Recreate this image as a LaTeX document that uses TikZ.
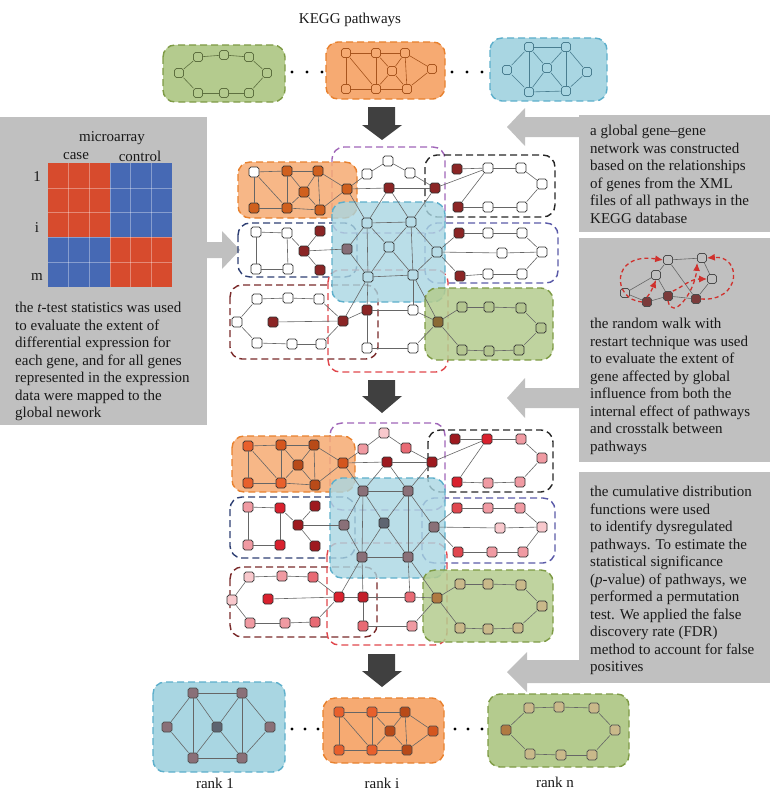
\documentclass[tikz,border=0pt]{standalone}
\usepackage{fontspec}
\setmainfont{Liberation Serif}
\usetikzlibrary{arrows.meta}
\definecolor{pgray}{HTML}{C0C0C0}
\definecolor{darr}{HTML}{404040}
\definecolor{gfill}{HTML}{B4CB8E}
\definecolor{gdraw}{HTML}{7E9B45}
\definecolor{gnode}{HTML}{5E7040}
\definecolor{ofill}{HTML}{F6AA72}
\definecolor{odraw}{HTML}{E8812E}
\definecolor{onode}{HTML}{A8551E}
\definecolor{bfill}{HTML}{A9D6E2}
\definecolor{bdraw}{HTML}{5DAFCB}
\definecolor{bnode}{HTML}{4A7E90}
\definecolor{purp}{HTML}{A066B8}
\definecolor{navyb}{HTML}{2E3F73}
\definecolor{slateb}{HTML}{5A5AA8}
\definecolor{brownb}{HTML}{7A2A2A}
\definecolor{redb}{HTML}{E0474C}
\definecolor{cdr}{HTML}{8B2525}
\definecolor{corn}{HTML}{D0601E}
\definecolor{clb}{HTML}{B8DDE8}
\definecolor{cgy}{HTML}{856E78}
\definecolor{col}{HTML}{8A6A35}
\definecolor{clg}{HTML}{B4C690}
\definecolor{coA}{HTML}{E8602C}
\definecolor{coB}{HTML}{D4561E}
\definecolor{coC}{HTML}{B84A18}
\definecolor{cdrb}{HTML}{9E1A1F}
\definecolor{crd}{HTML}{D9212E}
\definecolor{crdb}{HTML}{E0474F}
\definecolor{cdr3}{HTML}{C41E2A}
\definecolor{cpr}{HTML}{E86A74}
\definecolor{cpk}{HTML}{F09AA2}
\definecolor{clp}{HTML}{F8C8CC}
\definecolor{cgm}{HTML}{8A7078}
\definecolor{cgd}{HTML}{5E6470}
\definecolor{cbrn}{HTML}{B07A42}
\definecolor{ctn}{HTML}{C9B98A}
\definecolor{mred}{HTML}{D74B2D}
\definecolor{mblue}{HTML}{4669B4}
\definecolor{rwred}{HTML}{D0312D}
\definecolor{rwdark}{HTML}{7B3B3B}

\def\edgesOR{O1/O2,O2/O3,O1/O5,O1/O6,O2/O6,O2/O4,O3/O4,O4/O6,O4/O7,O3/O7,O3/O8,O7/O8,O5/O6,O6/O7}
\def\edgesBL{B3/B1,B3/B6,B1/B2,B1/B4,B1/B6,B4/B2,B4/B6,B4/B7,B2/B7,B2/B5,B5/B7,B6/B7}
\def\edgesGR{G/E1,E1/E2,E2/E3,E3/E4,E4/E5,E5/E6,E6/E7,E7/G}
\def\edgesXX{O8/P2,P2/P1,P1/P3,P3/P5,O8/P4,P4/P5,P4/B1,P4/B2,O8/B1,P5/B2,P5/K2,K1/K2,K2/K3,K3/K4,K4/K7,K7/K6,K6/K5,K5/K2,N1/N2,N1/N5,N5/N6,N2/N6,N2/N4,N4/N3,N4/N7,N4/B3,B5/S1,S1/S2,S2/S3,S3/S4,S4/S8,S8/S7,S7/S6,S6/B5,B5/S5,S5/S4,W4/W1,W1/W2,W2/W3,W3/J,W4/W6,W6/W7,W7/W8,W8/J,W5/J,B6/J,B6/R1,J/R1,R1/R2,R1/R3,R3/R4,R4/G,R2/G,B7/R2,B7/G}

\def\nodesA{O1/254/172/white,O2/287/171/corn,O3/318/171/corn,O4/304/192/corn,O5/254/208/corn,O6/287/208/corn,O7/320/210/corn,O8/347/189/corn,
P1/388/161/white,P2/367/174/white,P3/410/173/white,P4/389/188/cdr,P5/435/188/cdr,
K1/457/169/cdr,K2/488/168/white,K3/521/168/white,K4/542/184/white,K5/458/207/cdr,K6/488/207/white,K7/522/207/white,
N1/256/232/white,N2/287/233/white,N3/320/231/cdr,N4/304/251/cdr,N5/256/269/white,N6/288/269/white,N7/320/270/cdr,
B1/367/223/clb,B2/411/222/clb,B3/347/249/cgy,B4/389/247/clb,B5/437/252/clb,B6/368/277/clb,B7/413/275/clb,
S1/459/233/cdr,S2/488/233/white,S3/522/233/white,S4/542/252/white,S5/502/253/white,S6/460/276/cdr,S7/488/274/white,S8/522/274/white,
W1/257/299/white,W2/288/298/white,W3/319/299/white,W4/237/322/white,W5/273/322/cdr,W6/257/343/white,W7/292/344/white,W8/321/344/white,J/343/321/cdr,
R1/367/310/cdr,R2/413/310/white,R3/367/348/white,R4/413/348/white,
G/438/322/col,E1/462/307/clg,E2/489/307/clg,E3/521/308/clg,E4/541/328/clg,E5/519/350/clg,E6/489/351/clg,E7/462/350/clg}

\def\nodesB{O1/248/446/coA,O2/281/445/coB,O3/314/445/coC,O4/298/465/coC,O5/248/483/coA,O6/281/483/coA,O7/315/485/coC,O8/343/463/coB,
P1/384/433/clp,P2/363/449/cpk,P3/406/448/cpr,P4/387/462/cdrb,P5/432/462/cdrb,
K1/455/439/cdrb,K2/487/439/crd,K3/521/439/cpk,K4/542/458/cpk,K5/457/482/crd,K6/488/483/cpk,K7/520/482/cpk,
N1/248/507/cpk,N2/280/508/crd,N3/315/506/cdrb,N4/298/525/cdrb,N5/248/545/cpk,N6/280/545/crd,N7/315/546/cdrb,
B1/363/491/cgm,B2/408/491/cgm,B3/344/525/cgm,B4/384/523/cgd,B5/434/527/cgm,B6/362/557/cgm,B7/408/557/cgm,
S1/457/508/crdb,S2/488/508/cpk,S3/520/508/cpk,S4/542/527/clp,S5/500/528/clp,S6/458/552/crdb,S7/492/552/cpk,S8/523/552/cpk,
W1/249/577/clp,W2/282/576/cpk,W3/313/577/cpr,W4/232/600/clp,W5/268/599/crd,W6/250/623/cpk,W7/285/623/cpk,W8/315/622/cpr,J/339/597/crd,
R1/363/597/cdr3,R2/410/597/cpr,R3/363/626/cpr,R4/412/626/cpk,
G/437/598/cbrn,E1/460/584/ctn,E2/488/584/ctn,E3/521/585/ctn,E4/542/606/ctn,E5/518/628/ctn,E6/488/629/ctn,E7/460/628/ctn}

\tikzset{
  sq/.style={rectangle, rounded corners=1.8pt, minimum size=10pt, inner sep=0pt, line width=0.7pt, draw=#1},
  sq/.default={black!80},
  edg/.style={draw=black!60, line width=0.6pt},
  pbox/.style={draw=#1, line width=1.4pt, dash pattern=on 7pt off 4pt, rounded corners=12pt},
  txt/.style={font=\fontsize{15}{17.5}\selectfont, inner sep=0pt, align=left, anchor=north west, text=black!90},
  lbl/.style={font=\fontsize{15}{17.5}\selectfont, inner sep=0pt, text=black!90},
  rwarrow/.style={draw=rwred, line width=1.3pt, dash pattern=on 4pt off 3pt, -{Latex[length=8pt,width=7pt]}},
}

\begin{document}
\begin{tikzpicture}[x=1pt,y=-1pt]
\useasboundingbox (0,0) rectangle (772,792);

% ---------- gray explanation panels ----------
\fill[pgray] (0,117) rectangle (207,425);
\fill[pgray] (206,242) -- (222,242) -- (222,231) -- (240,250) -- (222,269) -- (222,258) -- (206,258) -- cycle;
\fill[pgray] (579,115) rectangle (770,232);
\fill[pgray] (580,117) -- (525,117) -- (525,108) -- (507,127) -- (525,146) -- (525,137) -- (580,137) -- cycle;
\fill[pgray] (579,238) rectangle (770,462);
\fill[pgray] (580,388) -- (525,388) -- (525,378) -- (507,398) -- (525,418) -- (525,408) -- (580,408) -- cycle;
\fill[pgray] (579,472) rectangle (770,683);
\fill[pgray] (580,660) -- (527,660) -- (527,652) -- (507,672) -- (527,692) -- (527,683) -- (580,683) -- cycle;

% ---------- dark down arrows ----------
\fill[darr] (368,107) -- (395,107) -- (395,125) -- (402,125) -- (382,140) -- (362,125) -- (368,125) -- cycle;
\fill[darr] (368,380) -- (395,380) -- (395,396) -- (402,396) -- (382,413) -- (362,396) -- (368,396) -- cycle;
\fill[darr] (368,654) -- (395,654) -- (395,671) -- (402,671) -- (382,687) -- (362,671) -- (368,671) -- cycle;

% ---------- title and labels ----------
\node[lbl] (title) at (350,20) {KEGG pathways};
\node[lbl] (rk1) at (215,783) {rank 1};
\node[lbl] (rki) at (382,783) {rank i};
\node[lbl] (rkn) at (555,782) {rank n};

% ---------- microarray ----------
\fill[mred] (48,163) rectangle (110,237.4);
\fill[mblue] (110,163) rectangle (172,237.4);
\fill[mblue] (48,237.4) rectangle (110,287);
\fill[mred] (110,237.4) rectangle (172,287);
\foreach \i in {1,...,5} \draw[white, opacity=0.35, line width=0.6pt] ({48+\i*20.667},163) -- ({48+\i*20.667},287);
\foreach \j in {1,...,4} \draw[white, opacity=0.35, line width=0.6pt] (48,{163+\j*24.8}) -- (172,{163+\j*24.8});
\node[lbl] (mic) at (112,138) {microarray};
\node[lbl] (mcase) at (76,156) {case};
\node[lbl] (mctrl) at (140,156) {control};
\node[lbl] (r1) at (37,177) {1};
\node[lbl] (ri) at (37,228) {i};
\node[lbl] (rm) at (37,277) {m};

% ---------- texts ----------
\node[txt] (tleft) at (15,302) {the \textit{t}-test statistics was used\\to evaluate the extent of\\differential expression for\\each gene, and for all genes\\represented in the expression\\data were mapped to the\\global nework};
\node[txt] (tr1) at (590,125) {a global gene--gene\\network was constructed\\based on the relationships\\of genes from the XML\\files of all pathways in the\\KEGG database};
\node[txt] (tr2) at (590,318) {the random walk with\\restart technique was used\\to evaluate the extent of\\gene affected by global\\influence from both the\\internal effect of pathways\\and crosstalk between\\pathways};
\node[txt] (tr3) at (590,486) {the cumulative distribution\\functions were used\\to identify dysregulated\\pathways. To estimate the\\statistical significance\\(\textit{p}-value) of pathways, we\\performed a permutation\\test. We applied the false\\discovery rate (FDR)\\method to account for false\\positives};

% ---------- random walk illustration ----------
\foreach \nm/\xx/\yy/\cl in {w1/625/293/pgray,w2/656/275/pgray,w3/668/260/pgray,w4/702/258/pgray,w5/712/279/pgray,d1/647/302/rwdark,d2/668/296/rwdark,d3/696/299/rwdark}
  \node[sq=black!70, fill=\cl, minimum size=9pt] (\nm) at (\xx,\yy) {};
\foreach \u/\v in {w1/w2,w2/w3,w3/w4,w4/w5,w5/d3,w1/d1,d1/d2,d2/d3,w2/d2,w3/d3}
  \draw[draw=black!60, line width=0.6pt] (\u) -- (\v);
\draw[rwarrow] (d1.west) .. controls (612,300) and (610,252) .. (w3.west);
\draw[rwarrow] (d2.south) .. controls (672,322) and (695,292) .. (w4.south west);
\draw[rwarrow] (d1.north) .. controls (648,296) and (651,292) .. (w2.south);
\draw[rwarrow] (d2.north east) .. controls (684,286) and (690,279) .. (w5.west);
\draw[rwarrow] (d3.east) .. controls (742,302) and (742,255) .. (w4.east);

% ---------- top row pathways ----------
\draw[pbox=gdraw, fill=gfill] (163,45) rectangle (285,102);
\draw[pbox=odraw, fill=ofill] (326,42) rectangle (445,99);
\draw[pbox=bdraw, fill=bfill] (490,38) rectangle (607,101);
\foreach \nm/\xx/\yy in {G/179/73,E1/198/57,E2/224/55,E3/249/57,E4/267/73,E5/249/93,E6/224/93,E7/198/93}
  \node[sq=gnode, fill=gfill, minimum size=9pt] (t\nm) at (\xx,\yy) {};
\foreach \nm/\xx/\yy in {O1/346/53,O2/376/53,O3/405/53,O4/392/71,O5/346/89,O6/376/89,O7/407/89,O8/432/69}
  \node[sq=onode, fill=ofill, minimum size=9pt] (t\nm) at (\xx,\yy) {};
\foreach \nm/\xx/\yy in {B1/529/47,B2/566/47,B3/507/70,B4/547/68,B5/587/72,B6/529/92,B7/566/91}
  \node[sq=bnode, fill=bfill, minimum size=9pt] (t\nm) at (\xx,\yy) {};
\foreach \u/\v in \edgesGR \draw[draw=gnode, line width=0.6pt] (t\u) -- (t\v);
\foreach \u/\v in \edgesOR \draw[draw=onode, line width=0.6pt] (t\u) -- (t\v);
\foreach \u/\v in \edgesBL \draw[draw=bnode, line width=0.6pt] (t\u) -- (t\v);
\fill (292,72) circle[radius=1.6pt] (307,72) circle[radius=1.6pt] (322,72) circle[radius=1.6pt];
\fill (452,72) circle[radius=1.6pt] (467,72) circle[radius=1.6pt] (482,72) circle[radius=1.6pt];

% ---------- panel 1 (global network) ----------
\draw[pbox=purp] (332,147) rectangle (445,233);
\draw[pbox=black!85] (425,155) rectangle (555,217);
\draw[pbox=navyb] (238,223) rectangle (357,277);
\draw[pbox=slateb] (425,223) rectangle (558,283);
\draw[pbox=brownb] (230,285) rectangle (378,359);
\draw[pbox=redb] (328,270) rectangle (448,372);
\draw[pbox=odraw, fill=ofill, fill opacity=0.85] (238,162) rectangle (357,218);
\draw[pbox=bdraw, fill=bfill, fill opacity=0.8] (332,202) rectangle (445,302);
\draw[pbox=gdraw, fill=gfill, fill opacity=0.85] (425,288) rectangle (553,360);
\foreach \nm/\xx/\yy/\cl in \nodesA \node[sq, fill=\cl] (a\nm) at (\xx,\yy) {};

% ---------- panel 2 (random walk result) ----------
\draw[pbox=purp] (330,423) rectangle (445,510);
\draw[pbox=black!85] (428,430) rectangle (553,492);
\draw[pbox=navyb] (230,497) rectangle (355,558);
\draw[pbox=slateb] (422,498) rectangle (555,563);
\draw[pbox=brownb] (230,567) rectangle (377,637);
\draw[pbox=redb] (327,543) rectangle (447,645);
\draw[pbox=odraw, fill=ofill, fill opacity=0.85] (232,436) rectangle (355,492);
\draw[pbox=bdraw, fill=bfill, fill opacity=0.8] (330,478) rectangle (445,578);
\draw[pbox=gdraw, fill=gfill, fill opacity=0.85] (423,570) rectangle (553,642);
\foreach \nm/\xx/\yy/\cl in \nodesB \node[sq, fill=\cl] (b\nm) at (\xx,\yy) {};

\foreach \p in {a,b} {
  \foreach \u/\v in \edgesOR \draw[edg] (\p\u) -- (\p\v);
  \foreach \u/\v in \edgesBL \draw[edg] (\p\u) -- (\p\v);
  \foreach \u/\v in \edgesGR \draw[edg] (\p\u) -- (\p\v);
  \foreach \u/\v in \edgesXX \draw[edg] (\p\u) -- (\p\v);
}

% ---------- bottom ranked pathways ----------
\draw[pbox=bdraw, fill=bfill] (153,682) rectangle (285,772);
\draw[pbox=odraw, fill=ofill] (323,698) rectangle (444,763);
\draw[pbox=gdraw, fill=gfill] (488,694) rectangle (629,767);
\foreach \nm/\xx/\yy/\cl in {B1/193/693/cgm,B2/242/693/cgm,B3/167/727/cgm,B4/217/727/cgd,B5/270/727/cgm,B6/193/758/cgm,B7/242/758/cgm,
  O1/339/712/coA,O2/372/712/coA,O3/405/712/coC,O4/390/731/coC,O5/339/750/coA,O6/372/750/coA,O7/407/750/coC,O8/433/731/coB,
  G/506/730/cbrn,E1/529/708/ctn,E2/559/707/ctn,E3/594/708/ctn,E4/615/730/ctn,E5/592/755/ctn,E6/561/755/ctn,E7/530/754/ctn}
  \node[sq=black!70, fill=\cl] (r\nm) at (\xx,\yy) {};
\foreach \u/\v in \edgesBL \draw[edg] (r\u) -- (r\v);
\foreach \u/\v in \edgesOR \draw[edg] (r\u) -- (r\v);
\foreach \u/\v in \edgesGR \draw[edg] (r\u) -- (r\v);
\fill (292,729) circle[radius=1.6pt] (305,729) circle[radius=1.6pt] (318,729) circle[radius=1.6pt];
\fill (455,729) circle[radius=1.6pt] (468,729) circle[radius=1.6pt] (482,729) circle[radius=1.6pt];
\end{tikzpicture}
\end{document}
